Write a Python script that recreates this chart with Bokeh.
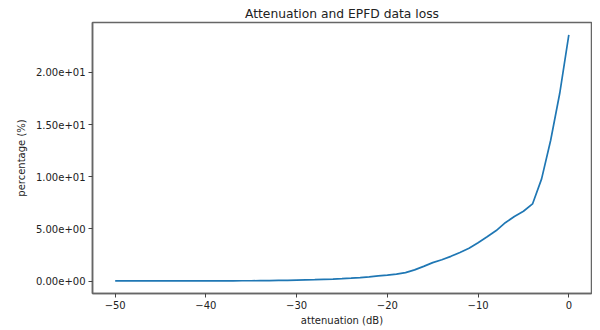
from bokeh.plotting import figure
from bokeh.models import FixedTicker, CustomJSTickFormatter, Range1d
from bokeh.embed import file_html
from bokeh.resources import INLINE

attenuation_db = list(range(-50, 1))
percentage = [
    0.02, 0.02, 0.02, 0.02, 0.02, 0.02, 0.02, 0.02, 0.02, 0.02,   # -50..-41
    0.03, 0.03, 0.03, 0.03, 0.04, 0.04, 0.05, 0.06, 0.07, 0.08,   # -40..-31
    0.10, 0.12, 0.14, 0.17, 0.20, 0.24, 0.29, 0.35, 0.42, 0.50,   # -30..-21
    0.58, 0.68, 0.82, 1.08, 1.42, 1.78, 2.05, 2.38, 2.74, 3.15,   # -20..-11
    3.68, 4.25, 4.85, 5.60, 6.20, 6.70, 7.40, 9.80, 13.5, 18.0,   # -10..-1
    23.6,                                                          # 0
]
x_ticks = [-50, -40, -30, -20, -10, 0]
y_ticks = [0, 5, 10, 15, 20]

p = figure(width=592, height=330, output_backend="svg", toolbar_location=None,
           title="Attenuation and EPFD data loss",
           x_range=Range1d(-52.5, 2.5), y_range=Range1d(-1.18, 24.78),
           min_border_left=92, min_border_right=1, min_border_top=22, min_border_bottom=37)

p.line(attenuation_db, percentage, line_color="#1f77b4", line_width=1.7)

p.title.align = "center"
p.title.text_font = "DejaVu Sans"
p.title.text_font_size = "12.3px"
p.title.text_font_style = "normal"
p.title.text_color = "#222222"
p.title.offset = 0
p.title.standoff = 3

p.xgrid.visible = False
p.ygrid.visible = False
p.outline_line_color = "#666666"
p.outline_line_width = 1.5
p.outline_line_alpha = 1

p.xaxis.ticker = FixedTicker(ticks=x_ticks)
p.yaxis.ticker = FixedTicker(ticks=y_ticks)
p.xaxis.formatter = CustomJSTickFormatter(code="""
    return tick < 0 ? '\u2212' + Math.abs(tick).toFixed(0) : tick.toFixed(0);
""")
p.yaxis.formatter = CustomJSTickFormatter(code="""
    const s = tick.toExponential(2);
    const parts = s.split('e');
    let e = parts[1];
    const sign = e[0];
    let d = e.slice(1);
    if (d.length < 2) d = '0' + d;
    return parts[0] + 'e' + sign + d;
""")
p.xaxis.axis_label = "attenuation (dB)"
p.yaxis.axis_label = "percentage (%)"

for ax in (p.xaxis, p.yaxis):
    ax.axis_line_color = "#666666"
    ax.axis_line_width = 1.5
    ax.major_tick_line_color = "#444444"
    ax.major_tick_in = 0
    ax.major_tick_out = 4
    ax.minor_tick_line_color = None
    ax.major_label_text_font = "DejaVu Sans"
    ax.major_label_text_font_size = "10px"
    ax.major_label_text_color = "#222222"
    ax.axis_label_text_font = "DejaVu Sans"
    ax.axis_label_text_font_size = "10px"
    ax.axis_label_text_font_style = "normal"
    ax.axis_label_text_color = "#222222"
    ax.major_label_standoff = 3
    ax.axis_label_standoff = 3

p.yaxis.axis_label_standoff = 6

open("out.html", "w").write(file_html(p, INLINE))
